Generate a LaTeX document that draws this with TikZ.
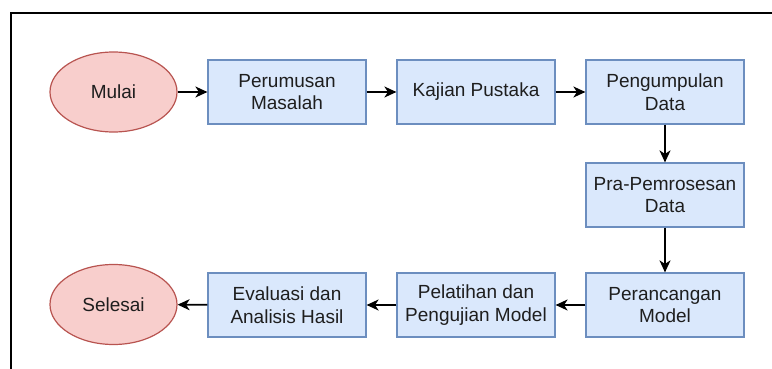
\documentclass[tikz,border=0pt]{standalone}
\usepackage{fontspec}
\setmainfont{Liberation Sans}
\usetikzlibrary{arrows.meta,shapes.geometric}
\definecolor{bfill}{HTML}{DAE8FC}
\definecolor{bdraw}{HTML}{6C8EBF}
\definecolor{rfill}{HTML}{F8CECC}
\definecolor{rdraw}{HTML}{B85450}
\definecolor{txt}{HTML}{1E1E1E}
\tikzset{
  stepbox/.style={draw=bdraw, fill=bfill, line width=1.2pt, minimum width=158pt, minimum height=64pt, inner sep=0pt, align=center, text=txt, font=\fontsize{19}{22.5}\selectfont},
  term/.style={ellipse, draw=rdraw, fill=rfill, line width=1.2pt, minimum width=127pt, minimum height=80pt, inner sep=0pt, text=txt, font=\fontsize{19}{22.5}\selectfont},
  conn/.style={line width=1.6pt, -{Stealth[length=12pt,width=11pt,inset=3.5pt]}},
}
\begin{document}
\begin{tikzpicture}[x=1pt,y=-1pt]
\useasboundingbox (0,0) rectangle (772,369);
\draw[line width=1.6pt] (11,369) -- (11,13) -- (772,13);
\node[term] (mulai) at (113.5,92) {Mulai};
\node[stepbox] (perumusan) at (287,92) {Perumusan\\Masalah};
\node[stepbox] (kajian) at (476,92) {Kajian Pustaka};
\node[stepbox] (pengumpulan) at (665,92) {Pengumpulan\\Data};
\node[stepbox] (pra) at (665,195) {Pra-Pemrosesan\\Data};
\node[stepbox] (perancangan) at (665,305) {Perancangan\\Model};
\node[stepbox] (pelatihan) at (476,305) {Pelatihan dan\\Pengujian Model};
\node[stepbox] (evaluasi) at (287,305) {Evaluasi dan\\Analisis Hasil};
\node[term] (selesai) at (113.5,304.5) {Selesai};
\draw[conn] (mulai) -- (perumusan);
\draw[conn] (perumusan) -- (kajian);
\draw[conn] (kajian) -- (pengumpulan);
\draw[conn] (pengumpulan) -- (pra);
\draw[conn] (pra) -- (perancangan);
\draw[conn] (perancangan) -- (pelatihan);
\draw[conn] (pelatihan) -- (evaluasi);
\draw[conn] (evaluasi) -- (selesai);
\end{tikzpicture}
\end{document}
